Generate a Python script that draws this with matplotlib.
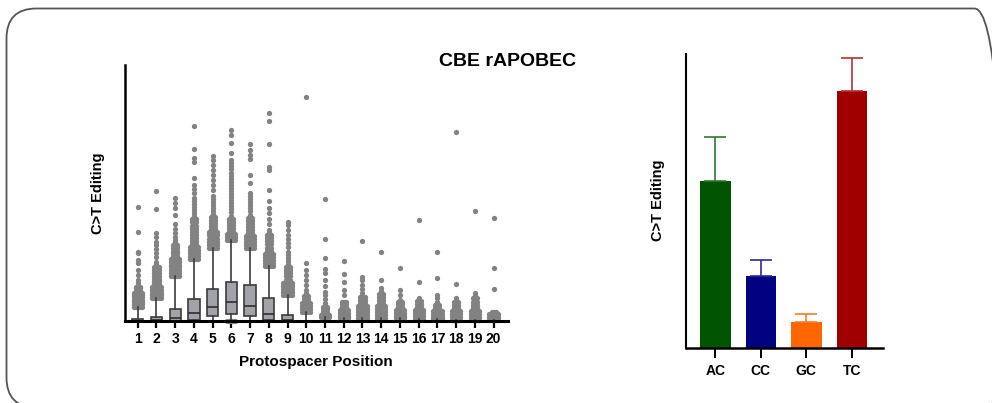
import numpy as np
import matplotlib
matplotlib.use('Agg')
import matplotlib.pyplot as plt
from matplotlib.patches import FancyBboxPatch

plt.rcParams['font.family'] = ['Liberation Sans', 'DejaVu Sans']

# ================================================================
# Data (arbitrary 0-100 scale)
# ================================================================

positions = list(range(1, 21))

box_q1  = [0, 0, 0, 0.4, 2.0, 2.6, 2.0, 0.4, 0, 0, 0, 0, 0, 0, 0, 0, 0, 0, 0, 0]
box_med = [0, 0.5, 1.3, 3.0, 5.3, 7.3, 6.0, 2.6, 0.4, 0, 0, 0, 0, 0, 0, 0, 0, 0, 0, 0]
box_q3  = [0.8, 1.4, 4.6, 8.5, 12.4, 15.4, 14.1, 8.9, 2.2, 0, 0, 0, 0, 0, 0, 0, 0, 0, 0, 0]
whisker_hi = [5.6, 8.9, 17.6, 24.1, 28.6, 31.6, 28.4, 21.5, 10.2, 3.6,
              1.4, 1.0, 1.0, 1.0, 1.0, 0.6, 0.6, 0.4, 0.4, 0.4]

outliers = [
    # 1
    [5.6, 6.5, 7.4, 8.3, 9.2, 10.1, 11.0, 11.9, 12.8, 13.4,
     14.7, 16.0, 18.0, 19.9, 22.5, 23.8, 26.4, 27.1, 34.9, 44.7],
    # 2
    [8.9, 10.0, 11.1, 12.2, 13.3, 14.4, 15.5, 16.6, 17.7, 18.8, 19.9, 21.0, 22.1, 23.2,
     25.0, 26.5, 28.0, 29.5, 31.0, 33.0, 34.5, 43.8, 50.8],
    # 3
    [17.6, 18.7, 19.8, 20.9, 22.0, 23.1, 24.2, 25.3, 26.4, 27.5, 28.6, 29.7, 30.8, 31.6,
     33.0, 34.5, 36.0, 38.0, 41.4, 44.0, 46.0, 48.2],
    # 4
    [24.1, 25.3, 26.5, 27.7, 28.9, 30.1, 31.3, 32.5, 33.7, 34.9, 36.1, 37.3, 38.5, 39.7,
     40.9, 42.1, 43.3, 44.5, 45.7, 46.9, 48.1,
     50.0, 51.5, 53.0, 55.7, 62.2, 63.8, 67.0, 76.0],
    # 5
    [28.6, 29.8, 31.0, 32.2, 33.4, 34.6, 35.8, 37.0, 38.2, 39.4, 40.6, 41.8, 43.0, 44.2,
     45.4, 46.6, 47.8, 49.0,
     51.0, 53.0, 55.0, 57.0, 59.0, 61.0, 63.0, 64.6],
    # 6
    [0, 31.6, 32.8, 34.0, 35.2, 36.4, 37.6, 38.8, 40.0, 41.2, 42.4, 43.6, 44.8, 46.0, 47.2,
     48.4, 49.6, 50.8, 52.0, 53.2, 54.4, 55.6, 56.8, 58.0, 59.2, 60.4, 61.6, 62.8,
     65.5, 69.4, 72.7, 74.5],
    # 7
    [28.4, 29.6, 30.8, 32.0, 33.2, 34.4, 35.6, 36.8, 38.0, 39.2, 40.4, 41.6, 42.8, 44.0,
     45.2, 46.4, 47.6, 48.8, 50.0,
     53.8, 57.0, 63.2, 64.8, 66.8, 69.3],
    # 8
    [21.5, 22.7, 23.9, 25.1, 26.3, 27.5, 28.7, 29.9, 31.1, 32.3, 33.5, 34.7, 35.5,
     38.0, 40.0, 42.0, 44.0, 47.0, 51.2, 59.0, 60.3, 69.0, 78.1, 81.2],
    # 9
    [10.2, 11.4, 12.6, 13.8, 15.0, 16.2, 17.4, 18.6, 19.8, 21.0, 22.2, 23.4, 24.6, 25.8,
     27.1, 29.0, 30.5, 32.0, 33.5, 35.5, 37.5, 38.8],
    # 10
    [3.6, 4.8, 6.0, 7.2, 8.4, 9.6, 10.8, 12.0, 14.0, 16.0, 18.0, 20.0, 22.8, 87.4],
    # 11
    [1.4, 2.5, 3.6, 4.6, 5.6, 7.0, 8.5, 10.0, 11.5, 13.5, 16.0, 18.6, 20.2, 24.5, 32.0, 47.8],
    # 12
    [1.0, 2.1, 3.2, 4.3, 5.4, 6.5, 7.6, 10.2, 12.1, 15.4, 18.4, 23.6],
    # 13
    [1.0, 2.2, 3.4, 4.6, 5.8, 7.0, 8.2, 9.4, 10.8, 12.4, 14.0, 16.0, 17.3, 31.4],
    # 14
    [1.0, 2.2, 3.4, 4.6, 5.8, 7.0, 8.2, 9.4, 10.6, 11.8, 12.8, 16.0, 26.8],
    # 15
    [1.0, 2.1, 3.2, 4.3, 5.4, 6.5, 7.6, 8.2, 10.0, 12.1, 20.6],
    # 16
    [0.6, 1.8, 3.0, 4.2, 5.4, 6.6, 7.8, 8.9, 15.1, 39.5],
    # 17
    [0.6, 1.7, 2.8, 3.9, 5.0, 6.1, 7.2, 7.6, 8.9, 10.2, 16.7, 26.8],
    # 18
    [0.4, 1.6, 2.8, 4.0, 5.2, 6.4, 7.6, 8.9, 14.3, 74.0],
    # 19
    [0.4, 1.6, 2.8, 4.0, 5.2, 6.4, 7.6, 8.8, 10.0, 10.8, 42.9],
    # 20
    [0.4, 1.5, 2.6, 3.6, 12.5, 20.6, 40.4],
]

# how far up each outlier swarm is wide / medium wide
wide_top = [11, 14, 25, 30, 35, 35, 34, 27, 15, 7.5, 3.5, 4.5, 6, 6, 4.5, 5, 4, 4, 4, 2.6]
mid_top = [14, 21, 30, 40, 41, 40, 41, 34, 22, 10, 5.6, 7.6, 10, 11, 8, 8, 7, 8, 9, 3.6]

contexts = ['AC', 'CC', 'GC', 'TC']
editing_mean = [57.0, 24.7, 8.8, 87.4]
editing_err = [14.7, 5.3, 2.8, 11.3]
bar_colors = ['#015501', '#000080', '#ff6600', '#a00000']
err_colors = ['#2f7a2f', '#2a2aa0', '#ff7a20', '#b83030']

# ================================================================
# Figure
# ================================================================

W, H = 992, 403
fig = plt.figure(figsize=(W / 100, H / 100), dpi=100)

# rounded frame (right and bottom edges fall just outside the picture)
bg = fig.add_axes([0, 0, 1, 1])
bg.set_xlim(0, W)
bg.set_ylim(0, H)
bg.axis('off')
frame = FancyBboxPatch((6.5, H - 407.5), 998, 399, boxstyle='round,pad=0,rounding_size=30',
                       fill=False, edgecolor='#555555', linewidth=1.3)
bg.add_patch(frame)


def px_axes(left, top, right, bottom):
    return fig.add_axes([left / W, 1 - bottom / H, (right - left) / W, (bottom - top) / H])


# ---------------- box plot ----------------
ax = px_axes(125, 65, 508, 321)

stats = []
for i, p in enumerate(positions):
    stats.append(dict(med=box_med[i], q1=box_q1[i], q3=box_q3[i],
                      whislo=0, whishi=whisker_hi[i], fliers=[]))

ax.bxp(stats, positions=positions, widths=0.6, patch_artist=True, showcaps=False,
       boxprops=dict(facecolor='#a2a2aa', edgecolor='#3c3c3c', linewidth=1.2),
       medianprops=dict(color='#2e2e2e', linewidth=1.2),
       whiskerprops=dict(color='#3c3c3c', linewidth=1.2), zorder=3)

for i, (p, vals) in enumerate(zip(positions, outliers)):
    xs, ys = [], []
    for v in vals:
        if v <= wide_top[i]:
            offs = [-0.22, -0.11, 0, 0.11, 0.22]
        elif v <= mid_top[i]:
            offs = [-0.11, 0, 0.11]
        else:
            offs = [0]
        for o in offs:
            xs.append(p + o)
            ys.append(v)
    ax.plot(xs, ys, 'o', color='#828282', markersize=3.8,
            markeredgewidth=0, zorder=2, clip_on=False)

ax.set_xlim(0.32, 20.77)
ax.set_ylim(0, 100)
ax.set_yticks([])
ax.set_xticks(positions)
ax.set_xticklabels([str(p) for p in positions], fontsize=10, fontweight='bold')
ax.tick_params(axis='x', length=5, width=1.6, pad=3)
for s in ['top', 'right']:
    ax.spines[s].set_visible(False)
ax.spines['left'].set_linewidth(1.8)
ax.spines['bottom'].set_linewidth(2.2)
ax.spines['bottom'].set_zorder(5)
ax.patch.set_alpha(0)

ax.set_xlabel('Protospacer Position', fontsize=11, fontweight='bold')
ax.xaxis.label.set_va('center')
ax.xaxis.set_label_coords(0.499, -0.16)
ax.set_ylabel('C>T Editing', fontsize=10.5, fontweight='bold')
ax.yaxis.label.set_va('center')
ax.yaxis.set_label_coords(-0.07, 0.5)

fig.text(508 / W, 1 - 61 / H, 'CBE rAPOBEC', ha='center', va='center',
         fontsize=14, fontweight='bold')

# ---------------- bar chart ----------------
bx = px_axes(685.7, 54, 882.7, 348.3)
xb = np.arange(len(contexts))
bx.bar(xb, editing_mean, width=0.67, color=bar_colors, zorder=2)
for x, m, e, c in zip(xb, editing_mean, editing_err, err_colors):
    bx.errorbar([x], [m], yerr=[[0], [e]], fmt='none', ecolor=c, elinewidth=1.2,
                capsize=8, capthick=1.2, zorder=3)

bx.set_xlim(-0.65, 3.68)
bx.set_ylim(0, 100)
bx.set_yticks([])
bx.set_xticks(xb)
bx.set_xticklabels(contexts, fontsize=10, fontweight='bold')
bx.tick_params(axis='x', length=7, width=1.4, pad=4)
for s in ['top', 'right']:
    bx.spines[s].set_visible(False)
bx.spines['left'].set_linewidth(1.5)
bx.spines['bottom'].set_linewidth(1.8)
bx.patch.set_alpha(0)
bx.set_ylabel('C>T Editing', fontsize=10.5, fontweight='bold')
bx.yaxis.label.set_va('center')
bx.yaxis.set_label_coords(-0.14, 0.504)

fig.savefig('out.png', dpi=100)
